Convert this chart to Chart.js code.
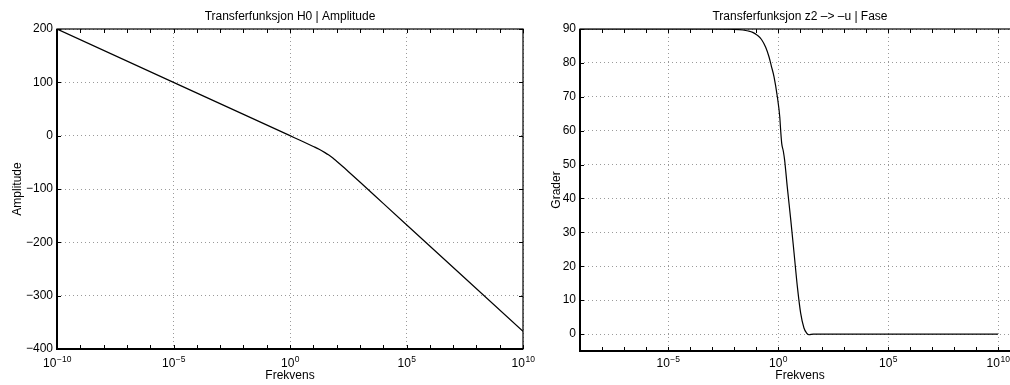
<!DOCTYPE html>
<html>
<head>
<meta charset="utf-8">
<script src="https://cdn.jsdelivr.net/npm/chart.js@4.4.1/dist/chart.umd.min.js"></script>
<style>
  html, body { margin: 0; padding: 0; background: #fff; overflow: hidden; }
  #wrap { position: relative; width: 1010px; height: 385px; overflow: hidden; background: #fff; }
  canvas { position: absolute; top: 0; }
  #ampChart { left: 0; }
  #phaseChart { left: 530px; }
</style>
</head>
<body>
<div id="wrap">
  <canvas id="ampChart" width="540" height="385"></canvas>
  <canvas id="phaseChart" width="500" height="385"></canvas>
</div>
<script>
// H0 amplitude in dB, frequency given as power of ten
var ampExp = [-10, -5, 0, 0.5, 1, 1.25, 1.5, 1.65, 1.84, 2, 2.25, 2.5, 3, 4, 5, 10];
var ampDb = [200, 100, 0, -10, -20.2, -25.5, -31.8, -36, -42, -47.9, -57.3, -67.1, -87, -127, -167, -367];
var ampTicks = [-400, -300, -200, -100, 0, 100, 200];
var ampFreqTicks = [-10, -5, 0, 5, 10];

// z2 -> -u phase in degrees
var phaseExp = [-9, -3, -2, -1.6, -1.35, -1.15, -0.95, -0.75, -0.56, -0.41, -0.3, -0.18, -0.03, 0.08, 0.12, 0.17, 0.24, 0.30, 0.42, 0.58, 0.73, 0.88, 1.03, 1.18, 1.30, 1.41, 1.6, 2, 10];
var phaseDeg = [90, 90, 89.9, 89.7, 89.4, 89.0, 88.2, 86.9, 84.6, 81.8, 79.0, 75.9, 70, 64.1, 60.2, 56.2, 54.0, 51.4, 43.5, 33.7, 23.9, 14.0, 6.2, 1.8, 0.3, -0.2, 0, 0, 0];
var phaseTicks = [0, 10, 20, 30, 40, 50, 60, 70, 80, 90];
var phaseFreqTicks = [-5, 0, 5, 10];

var FONT = "'Liberation Sans', Arial, Helvetica, sans-serif";

// box, inward ticks, 10^n labels and titles drawn the matlab way
var matlabAxes = {
    id: 'matlabAxes',
    afterDraw: function (chart, args, opts) {
        var ctx = chart.ctx;
        var a = chart.chartArea;
        var x = chart.scales.x;
        var y = chart.scales.y;
        ctx.save();

        ctx.strokeStyle = '#000';
        ctx.lineWidth = 1;
        ctx.beginPath();
        var lo = Math.ceil(Math.log10(x.min) - 1e-9);
        var hi = Math.floor(Math.log10(x.max) + 1e-9);
        for (var e = lo; e <= hi; e++) {
            var px = Math.round(x.getPixelForValue(Math.pow(10, e))) + 0.5;
            ctx.moveTo(px, a.bottom);
            ctx.lineTo(px, a.bottom - 4);
            ctx.moveTo(px, a.top);
            ctx.lineTo(px, a.top + 4);
        }
        y.ticks.forEach(function (t) {
            var py = Math.round(y.getPixelForValue(t.value)) + 0.5;
            ctx.moveTo(a.left, py);
            ctx.lineTo(a.left + 4, py);
            ctx.moveTo(a.right, py);
            ctx.lineTo(a.right - 4, py);
        });
        ctx.stroke();

        // frame: heavier on left and bottom
        ctx.lineWidth = 1.2;
        ctx.strokeRect(a.left, a.top, a.right - a.left, a.bottom - a.top);
        ctx.lineWidth = 2;
        ctx.beginPath();
        ctx.moveTo(a.left, a.top);
        ctx.lineTo(a.left, a.bottom);
        ctx.lineTo(a.right, a.bottom);
        ctx.stroke();

        // x tick labels as 10 with superscript exponent
        ctx.fillStyle = '#000';
        ctx.textAlign = 'left';
        ctx.textBaseline = 'alphabetic';
        x.ticks.forEach(function (t) {
            var n = Math.round(Math.log10(t.value));
            var base = '10';
            var sup = String(n).replace('-', '\u2212');
            ctx.font = '12px ' + FONT;
            var wb = ctx.measureText(base).width;
            ctx.font = '8.5px ' + FONT;
            var ws = ctx.measureText(sup).width;
            var left = x.getPixelForValue(t.value) - (wb + ws) / 2;
            ctx.font = '12px ' + FONT;
            ctx.fillText(base, left, 367);
            ctx.font = '8.5px ' + FONT;
            ctx.fillText(sup, left + wb + 0.5, 361.5);
        });

        // titles
        var cx = (a.left + a.right) / 2;
        ctx.font = '12px ' + FONT;
        ctx.textAlign = 'center';
        ctx.fillText(opts.title, cx, 19.5);
        ctx.fillText('Frekvens', cx, 378.5);

        ctx.translate(opts.yTitleX, (a.top + a.bottom) / 2);
        ctx.rotate(-Math.PI / 2);
        ctx.textBaseline = 'middle';
        ctx.fillText(opts.yTitle, 0, 0);
        ctx.restore();
    }
};

function lagGraf(id, exps, vals, cfg) {
    var punkter = exps.map(function (e, i) {
        return { x: Math.pow(10, e), y: vals[i] };
    });
    return new Chart(document.getElementById(id), {
        type: 'line',
        data: {
            datasets: [{
                data: punkter,
                borderColor: '#000',
                borderWidth: 1.2,
                pointRadius: 0,
                fill: false,
                cubicInterpolationMode: 'monotone'
            }]
        },
        options: {
            responsive: false,
            animation: false,
            devicePixelRatio: 1,
            layout: { padding: { top: 29, right: cfg.padRight, left: 0, bottom: 0 } },
            plugins: {
                legend: { display: false },
                tooltip: { enabled: false },
                matlabAxes: { title: cfg.title, yTitle: cfg.yTitle, yTitleX: cfg.yTitleX }
            },
            scales: {
                x: {
                    type: 'logarithmic',
                    min: cfg.xMin,
                    max: cfg.xMax,
                    afterBuildTicks: function (s) {
                        s.ticks = cfg.xTicks.map(function (e) { return { value: Math.pow(10, e) }; });
                    },
                    afterFit: function (s) { s.height = cfg.xHeight; },
                    ticks: { display: false },
                    grid: { color: '#9a9a9a', lineWidth: 1, drawTicks: false },
                    border: { display: false, dash: [1, 3] }
                },
                y: {
                    min: cfg.yMin,
                    max: cfg.yMax,
                    afterBuildTicks: function (s) {
                        s.ticks = cfg.yTicks.map(function (v) { return { value: v }; });
                    },
                    afterFit: function (s) { s.width = cfg.yWidth; },
                    ticks: {
                        color: '#000',
                        padding: 4,
                        font: { family: FONT, size: 12 },
                        callback: function (v) { return String(v).replace('-', '\u2212'); }
                    },
                    grid: { color: '#9a9a9a', lineWidth: 1, drawTicks: false },
                    border: { display: false, dash: [1, 3] }
                }
            }
        },
        plugins: [matlabAxes]
    });
}

lagGraf('ampChart', ampExp, ampDb, {
    title: 'Transferfunksjon H0 | Amplitude',
    yTitle: 'Amplitude',
    yTitleX: 18,
    xMin: 1e-10, xMax: 1e10, xTicks: ampFreqTicks,
    yMin: -400, yMax: 200, yTicks: ampTicks,
    yWidth: 57, xHeight: 36, padRight: 17
});

lagGraf('phaseChart', phaseExp, phaseDeg, {
    title: 'Transferfunksjon z2 \u2013> \u2013u | Fase',
    yTitle: 'Grader',
    yTitleX: 27,
    xMin: 1e-9, xMax: 1e11, xTicks: phaseFreqTicks,
    yMin: -5, yMax: 90, yTicks: phaseTicks,
    yWidth: 50, xHeight: 34, padRight: 10
});
</script>
</body>
</html>
